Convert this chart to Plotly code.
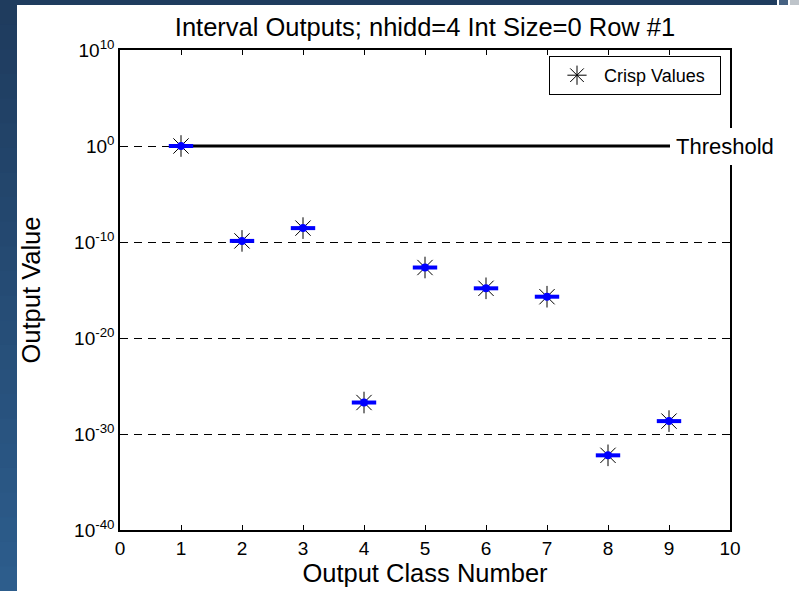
import plotly.graph_objects as go

# ---- data ----
classes = [1, 2, 3, 4, 5, 6, 7, 8, 9]
crisp_values = [1.0, 1.3e-10, 2.8e-9, 1.9e-27, 2.2e-13, 1.5e-15, 2.0e-16, 6e-33, 2.2e-29]
interval_halfwidth = 0.2
threshold_value = 1.0
threshold_x = [1, 10]
y_tick_vals = [1e10, 1e0, 1e-10, 1e-20, 1e-30, 1e-40]
y_tick_text = ["10<sup>10</sup>", "10<sup>0</sup>", "10<sup>-10</sup>",
               "10<sup>-20</sup>", "10<sup>-30</sup>", "10<sup>-40</sup>"]
x_tick_vals = list(range(0, 11))

FONT = "Liberation Sans, Arial, sans-serif"
W, H = 799, 591
ML, MR, MT, MB = 120, 69, 50, 61
PW, PH = W - ML - MR, H - MT - MB

fig = go.Figure()

# threshold line
fig.add_trace(go.Scatter(x=threshold_x, y=[threshold_value, threshold_value],
                         mode="lines", line=dict(color="black", width=3),
                         showlegend=False, hoverinfo="skip"))

# crisp values (asterisks)
fig.add_trace(go.Scatter(x=classes, y=crisp_values, mode="markers",
                         name="Crisp Values\u00a0\u00a0",
                         marker=dict(symbol="asterisk-open", size=18, color="black",
                                     line=dict(color="black", width=1))))

# interval bars (blue)
bx, by = [], []
for c, v in zip(classes, crisp_values):
    bx += [c - interval_halfwidth, c + interval_halfwidth, None]
    by += [v, v, None]
fig.add_trace(go.Scatter(x=bx, y=by, mode="lines",
                         line=dict(color="#0000ff", width=4),
                         showlegend=False, hoverinfo="skip"))
fig.add_trace(go.Scatter(x=classes, y=crisp_values, mode="markers",
                         marker=dict(symbol="circle", size=8, color="#0000ff"),
                         showlegend=False, hoverinfo="skip"))

# ---- background decoration (slide frame) ----
def px2x(p):
    return (p - ML) / PW

def py2y(p):
    return (H - MB - p) / PH

shapes = []
n = 24
c0 = (0x1f, 0x3c, 0x5e)
c1 = (0x2d, 0x5d, 0x8c)
for i in range(n):
    t = i / (n - 1)
    col = "rgb(%d,%d,%d)" % tuple(int(a + (b - a) * t) for a, b in zip(c0, c1))
    shapes.append(dict(type="rect", xref="paper", yref="paper",
                       x0=px2x(0), x1=px2x(17),
                       y0=py2y(H * (i + 1) / n + 1), y1=py2y(H * i / n),
                       fillcolor=col, line=dict(width=0), layer="below"))
shapes.append(dict(type="rect", xref="paper", yref="paper",
                   x0=px2x(0), x1=px2x(777), y0=py2y(5), y1=py2y(0),
                   fillcolor="rgb(31,60,94)", line=dict(width=0), layer="below"))
shapes.append(dict(type="rect", xref="paper", yref="paper",
                   x0=px2x(779), x1=px2x(788), y0=py2y(5), y1=py2y(0),
                   fillcolor="rgb(70,98,130)", line=dict(width=0), layer="below"))
shapes.append(dict(type="rect", xref="paper", yref="paper",
                   x0=px2x(790), x1=px2x(799), y0=py2y(5), y1=py2y(0),
                   fillcolor="rgb(190,196,202)", line=dict(width=0), layer="below"))

fig.update_layout(
    width=W, height=H,
    margin=dict(l=ML, r=MR, t=MT, b=MB, autoexpand=False),
    paper_bgcolor="white", plot_bgcolor="white",
    font=dict(family=FONT, color="black"),
    title=dict(text="Interval Outputs; nhidd=4 Int Size=0 Row #1",
               x=425 / W, xanchor="center",
               y=1 - 27 / H, yanchor="middle",
               font=dict(size=25.5, family=FONT, color="black")),
    xaxis=dict(range=[0, 10], tickvals=x_tick_vals, ticks="inside", ticklen=5,
               tickwidth=1, tickcolor="black", mirror="ticks", showline=True,
               linecolor="black", linewidth=2, showgrid=False, zeroline=False,
               tickfont=dict(size=19, family=FONT),
               title=dict(text="Output Class Number", standoff=4,
                          font=dict(size=25.5, family=FONT))),
    yaxis=dict(type="log", range=[-40, 10], tickvals=y_tick_vals,
               ticktext=y_tick_text, ticks="inside", ticklen=5, tickwidth=1,
               tickcolor="black", mirror="ticks", showline=True,
               linecolor="black", linewidth=1.5, showgrid=True,
               gridcolor="black", gridwidth=1, griddash="8px,6px",
               zeroline=False, tickfont=dict(size=19, family=FONT),
               title=dict(text="Output Value", standoff=26,
                          font=dict(size=25.5, family=FONT))),
    legend=dict(x=px2x(721), y=py2y(56), xanchor="right", yanchor="top",
                bgcolor="white", bordercolor="black", borderwidth=1,
                itemwidth=44,
                font=dict(size=18, family=FONT)),
    shapes=shapes,
    annotations=[dict(x=9.02, y=0, xref="x", yref="y", xanchor="left",
                      yanchor="middle", text="Threshold", showarrow=False,
                      bgcolor="white", borderpad=5, borderwidth=1,
                      bordercolor="white", font=dict(size=22, family=FONT))],
    showlegend=True,
)

fig.write_html("out.html")
